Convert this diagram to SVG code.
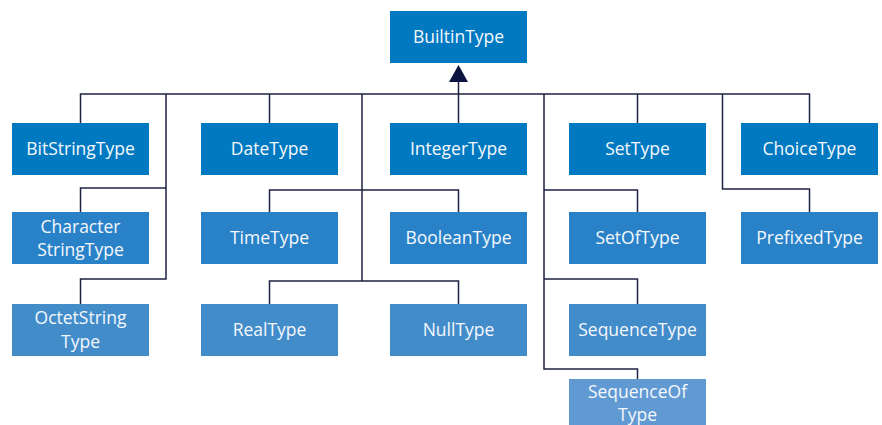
<svg xmlns="http://www.w3.org/2000/svg" width="882" height="425" viewBox="0 0 882 425">
  <style>
    .box rect { stroke: none; }
    .r1 { fill: #0079c1; }
    .r2 { fill: #2982c8; }
    .r3 { fill: #438cca; }
    .r4 { fill: #6199d3; }
    .box text { font-family: "Open Sans", "Noto Sans", sans-serif; font-size: 17.5px; fill: #f4f8fc; text-anchor: middle; }
    .wire { fill: none; stroke: #1e2242; stroke-width: 1.5; }
    .head { fill: #0d1340; stroke: none; }
  </style>

  <!-- connectors -->
  <g id="connectors">
    <g class="wire">
      <!-- main bus -->
      <path d="M458.5 80 V94"/>
      <path d="M80.5 123 V94 H809.5 V123"/>
      <path d="M269.5 94 V123"/>
      <path d="M458.5 94 V123"/>
      <path d="M637.5 94 V123"/>
      <!-- string types -->
      <path d="M166 94 V279 H80.5 V304"/>
      <path d="M166 188 H80.5 V212"/>
      <!-- time / boolean / real / null -->
      <path d="M362 94 V281"/>
      <path d="M269.5 212 V190 H458.5 V212"/>
      <path d="M269.5 304 V281 H458.5 V304"/>
      <!-- set / sequence types -->
      <path d="M544 94 V369 H637.5 V379"/>
      <path d="M544 190 H637.5 V212"/>
      <path d="M544 279 H637.5 V304"/>
      <!-- prefixed -->
      <path d="M722.5 94 V189 H809.5 V212"/>
    </g>
    <!-- generalisation arrowhead -->
    <polygon class="head" points="458.5,65 468,82 449,82"/>
  </g>

  <g id="builtin" class="box"><rect class="r1" x="390" y="11" width="137" height="52"/><text x="458.5" y="43">BuiltinType</text></g>

  <g id="bitstring" class="box"><rect class="r1" x="12" y="123" width="137" height="52"/><text x="80.5" y="155">BitStringType</text></g>
  <g id="date" class="box"><rect class="r1" x="201" y="123" width="137" height="52"/><text x="269.5" y="155">DateType</text></g>
  <g id="integer" class="box"><rect class="r1" x="390" y="123" width="137" height="52"/><text x="458.5" y="155">IntegerType</text></g>
  <g id="set" class="box"><rect class="r1" x="569" y="123" width="137" height="52"/><text x="637.5" y="155">SetType</text></g>
  <g id="choice" class="box"><rect class="r1" x="741" y="123" width="137" height="52"/><text x="809.5" y="155">ChoiceType</text></g>

  <g id="characterstring" class="box"><rect class="r2" x="12" y="212" width="137" height="52"/><text x="80.5" y="233">Character</text><text x="80.5" y="256">StringType</text></g>
  <g id="time" class="box"><rect class="r2" x="201" y="212" width="137" height="52"/><text x="269.5" y="244">TimeType</text></g>
  <g id="boolean" class="box"><rect class="r2" x="390" y="212" width="137" height="52"/><text x="458.5" y="244">BooleanType</text></g>
  <g id="setof" class="box"><rect class="r2" x="569" y="212" width="137" height="52"/><text x="637.5" y="244">SetOfType</text></g>
  <g id="prefixed" class="box"><rect class="r2" x="741" y="212" width="137" height="52"/><text x="809.5" y="244">PrefixedType</text></g>

  <g id="octetstring" class="box"><rect class="r3" x="12" y="304" width="137" height="52"/><text x="80.5" y="324">OctetString</text><text x="80.5" y="348">Type</text></g>
  <g id="real" class="box"><rect class="r3" x="201" y="304" width="137" height="52"/><text x="269.5" y="336">RealType</text></g>
  <g id="null" class="box"><rect class="r3" x="390" y="304" width="137" height="52"/><text x="458.5" y="336">NullType</text></g>
  <g id="sequence" class="box"><rect class="r3" x="569" y="304" width="137" height="52"/><text x="637.5" y="336">SequenceType</text></g>

  <g id="sequenceof" class="box"><rect class="r4" x="569" y="379" width="137" height="52"/><text x="637.5" y="398">SequenceOf</text><text x="637.5" y="421">Type</text></g>
</svg>
